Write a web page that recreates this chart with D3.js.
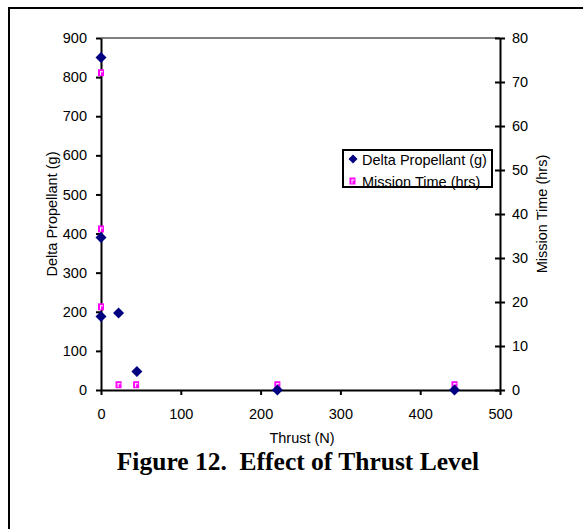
<!DOCTYPE html>
<html>
<head>
<meta charset="utf-8">
<script src="https://cdn.jsdelivr.net/npm/d3@7/dist/d3.min.js"></script>
<style>
  html, body { margin: 0; padding: 0; background: #fff; }
  svg { display: block; }
</style>
</head>
<body>
<svg id="chart" width="583" height="529"></svg>
<script>
// ---- data ----
const propThrust = [0, 0, 0, 22, 45, 221, 443];
const propValues = [850, 390, 188, 197, 47, 0, 0];
const timeThrust = [0, 0, 0, 22, 44, 221, 443];
const timeValues = [72.1, 36.6, 18.9, 1.2, 1.2, 1.2, 1.2];
const xTicks = [0, 100, 200, 300, 400, 500];
const yLeftTicks = [0, 100, 200, 300, 400, 500, 600, 700, 800, 900];
const yRightTicks = [0, 10, 20, 30, 40, 50, 60, 70, 80];
const seriesNames = ["Delta Propellant (g)", "Mission Time (hrs)"];
const xTitle = "Thrust (N)";
const figTitle = "Figure 12.  Effect of Thrust Level";

const SANS = "'Liberation Sans', Arial, sans-serif";
const FS = 14.5;
const svg = d3.select("#chart");
const L = 101, R = 500, T = 38, B = 390;

const x = d3.scaleLinear().domain([0, 500]).range([L, R]);
const yL = d3.scaleLinear().domain([0, 900]).range([B, T]);
const yR = d3.scaleLinear().domain([0, 80]).range([B, T]);

// outer frame (extends past the visible area at right/bottom)
svg.append("rect").attr("x", 9).attr("y", 8).attr("width", 620).attr("height", 560)
  .attr("fill", "none").attr("stroke", "#000").attr("stroke-width", 2);

// top border of plot area
svg.append("line").attr("x1", L).attr("x2", R).attr("y1", T).attr("y2", T)
  .attr("stroke", "#808080").attr("stroke-width", 2);

function styleAxis(g) {
  g.selectAll(".domain").attr("stroke", "#000").attr("stroke-width", 2);
  g.selectAll(".tick line").attr("stroke", "#000").attr("stroke-width", 2);
  g.selectAll("text").style("font-family", SANS).style("font-size", FS + "px").attr("fill", "#000");
}

// x axis
const gx = svg.append("g").attr("transform", `translate(0,${B})`)
  .call(d3.axisBottom(x).tickValues(xTicks).tickSize(5).tickSizeOuter(0).tickPadding(14));
styleAxis(gx);

// left axis
const gl = svg.append("g").attr("transform", `translate(${L},0)`)
  .call(d3.axisLeft(yL).tickValues(yLeftTicks).tickSize(5).tickSizeOuter(0).tickPadding(9));
styleAxis(gl);

// right axis (ticks cross the axis)
const gr = svg.append("g").attr("transform", `translate(${R},0)`)
  .call(d3.axisRight(yR).tickValues(yRightTicks).tickSize(5).tickSizeOuter(0).tickPadding(7));
styleAxis(gr);
gr.selectAll(".tick line").attr("x1", -5).attr("x2", 5);

function sansText(sel) {
  return sel.style("font-family", SANS).style("font-size", FS + "px").attr("fill", "#000");
}

// axis titles
sansText(svg.append("text").attr("x", 302).attr("y", 443).attr("text-anchor", "middle")).text(xTitle);
sansText(svg.append("text").attr("transform", `translate(57,${(T + B) / 2}) rotate(-90)`)
  .attr("text-anchor", "middle")).text(seriesNames[0]);
sansText(svg.append("text").attr("transform", `translate(547,${(T + B) / 2}) rotate(-90)`)
  .attr("text-anchor", "middle")).text(seriesNames[1]);

// figure title
svg.append("text").attr("x", 298).attr("y", 470).attr("text-anchor", "middle")
  .style("font-family", "'Liberation Serif', 'Times New Roman', serif")
  .style("font-weight", "bold").style("font-size", "25.5px").style("white-space", "pre")
  .attr("xml:space", "preserve")
  .text(figTitle);

// marker helpers
function squareMarker(g, cx, cy) {
  g.append("rect").attr("x", cx - 3).attr("y", cy - 3.5).attr("width", 6).attr("height", 7)
    .attr("fill", "#FF00FF");
  g.append("rect").attr("x", cx - 1).attr("y", cy - 1.5).attr("width", 3).attr("height", 1)
    .attr("fill", "#fff");
  g.append("rect").attr("x", cx - 1).attr("y", cy - 1.5).attr("width", 1).attr("height", 4)
    .attr("fill", "#fff");
}
const diamond = "M0,-5.5L5.5,0L0,5.5L-5.5,0Z";

// mission time squares
const gs = svg.append("g");
timeThrust.forEach((t, i) => squareMarker(gs, x(t), yR(timeValues[i])));

// delta propellant diamonds
svg.append("g").selectAll("path").data(propThrust).join("path")
  .attr("d", diamond)
  .attr("transform", (d, i) => `translate(${x(d)},${yL(propValues[i])})`)
  .attr("fill", "#000080");

// legend
const lg = svg.append("g");
lg.append("path").attr("d", "M0,-4.5L4.5,0L0,4.5L-4.5,0Z")
  .attr("transform", "translate(353,159)").attr("fill", "#000080");
sansText(lg.append("text").attr("x", 362).attr("y", 165)).text(seriesNames[0]);
squareMarker(lg, 352.5, 181);
sansText(lg.append("text").attr("x", 362).attr("y", 186.5)).text(seriesNames[1]);
lg.append("rect").attr("x", 343).attr("y", 150).attr("width", 149).attr("height", 37)
  .attr("fill", "none").attr("stroke", "#000").attr("stroke-width", 2);
</script>
</body>
</html>
